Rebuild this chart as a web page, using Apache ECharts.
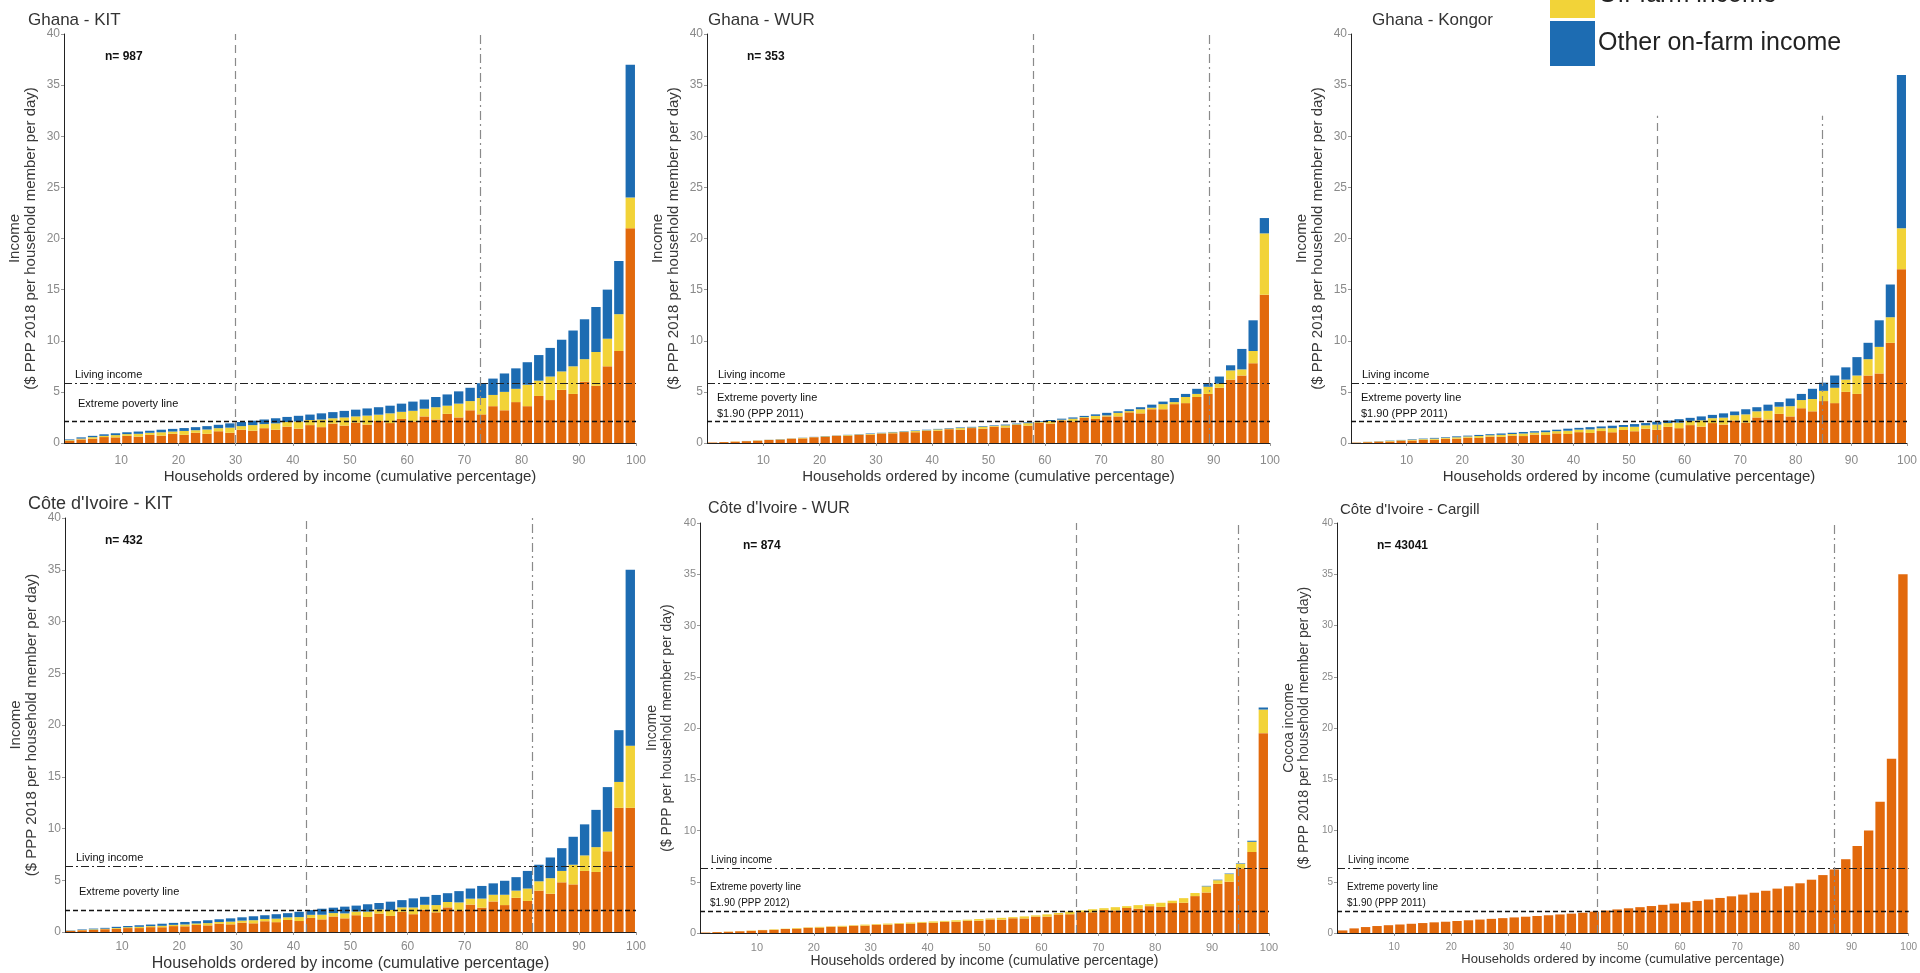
<!DOCTYPE html>
<html>
<head>
<meta charset="utf-8">
<script src="https://cdn.jsdelivr.net/npm/echarts@6/dist/echarts.min.js"></script>
<style>
html,body{margin:0;padding:0;background:#fff;}
#chart{width:1920px;height:973px;}
</style>
</head>
<body>
<div id="chart"></div>
<script>
// ---------- DATA ----------
// household position (cumulative percentage, centre of each 2% group)
const pct = [1,3,5,7,9,11,13,15,17,19,21,23,25,27,29,31,33,35,37,39,41,43,45,47,49,51,53,55,57,59,61,63,65,67,69,71,73,75,77,79,81,83,85,87,89,91,93,95,97,99];

const seriesNames = ['Cocoa income', 'Off-farm income', 'Other on-farm income'];

// Ghana - KIT
const ghKitCocoa  = [0.22,0.35,0.42,0.58,0.55,0.7,0.62,0.8,0.72,0.9,0.8,1.0,0.9,1.15,1.0,1.3,1.2,1.45,1.3,1.6,1.4,1.75,1.55,1.9,1.7,2.0,1.8,2.15,1.95,2.35,2.1,2.6,2.3,2.85,2.5,3.2,2.8,3.6,3.2,4.0,3.6,4.6,4.2,5.2,4.8,6.0,5.6,7.5,9.0,21];
const ghKitOther  = [0.06,0.08,0.15,0.12,0.22,0.17,0.28,0.2,0.33,0.22,0.38,0.25,0.42,0.3,0.5,0.35,0.55,0.4,0.62,0.45,0.7,0.5,0.75,0.52,0.8,0.6,0.88,0.62,0.95,0.7,1.05,0.75,1.2,0.8,1.35,0.9,1.6,1.1,1.8,1.3,2.1,1.5,2.3,1.8,2.7,2.2,3.3,2.7,3.6,3];
const ghKitOnfarm = [0.07,0.12,0.13,0.15,0.18,0.18,0.22,0.2,0.25,0.26,0.28,0.3,0.33,0.33,0.42,0.4,0.43,0.45,0.5,0.5,0.56,0.53,0.6,0.6,0.64,0.66,0.7,0.73,0.75,0.8,0.9,0.9,1.0,1.1,1.2,1.3,1.45,1.6,1.8,2.0,2.2,2.5,2.8,3.1,3.5,3.9,4.4,4.8,5.2,13];

// Ghana - WUR
const ghWurCocoa  = [0.045,0.09,0.13,0.18,0.22,0.3,0.33,0.42,0.45,0.56,0.6,0.7,0.7,0.8,0.82,0.92,0.95,1.07,1.05,1.2,1.2,1.35,1.3,1.46,1.4,1.6,1.52,1.76,1.7,1.98,1.9,2.2,2.1,2.45,2.35,2.6,2.6,3.0,2.9,3.3,3.3,3.8,3.9,4.5,4.8,5.4,6.2,6.6,7.8,14.5];
const ghWurOther  = [0.005,0.01,0.02,0.01,0.03,0.01,0.03,0.02,0.05,0.02,0.05,0.02,0.07,0.03,0.06,0.04,0.09,0.04,0.12,0.05,0.13,0.05,0.16,0.06,0.19,0.06,0.2,0.07,0.24,0.08,0.25,0.08,0.28,0.08,0.3,0.1,0.35,0.12,0.4,0.15,0.5,0.2,0.6,0.3,0.7,0.4,0.9,0.6,1.2,6.0];
const ghWurOnfarm = [0,0,0,0.01,0.01,0.01,0.02,0.01,0.02,0.02,0.03,0.02,0.03,0.03,0.05,0.04,0.04,0.04,0.05,0.05,0.05,0.05,0.06,0.06,0.06,0.06,0.08,0.07,0.08,0.08,0.1,0.1,0.12,0.12,0.15,0.25,0.15,0.18,0.2,0.3,0.25,0.4,0.3,0.5,0.35,0.7,0.5,2.0,3.0,1.5];

// Ghana - Kongor
const ghKonCocoa  = [0.035,0.08,0.13,0.15,0.22,0.24,0.31,0.32,0.42,0.42,0.52,0.5,0.62,0.6,0.72,0.68,0.82,0.78,0.94,0.88,1.06,0.98,1.17,1.05,1.27,1.15,1.4,1.3,1.58,1.45,1.75,1.6,1.95,1.8,2.2,2.0,2.5,2.3,2.85,2.6,3.4,3.1,4.1,3.9,5.0,4.8,6.6,6.8,9.8,17];
const ghKonOther  = [0.01,0.03,0.03,0.06,0.05,0.08,0.07,0.11,0.09,0.14,0.12,0.18,0.14,0.2,0.16,0.25,0.2,0.28,0.22,0.32,0.25,0.35,0.27,0.4,0.3,0.44,0.33,0.5,0.37,0.55,0.42,0.62,0.48,0.68,0.52,0.8,0.6,0.85,0.7,1.0,0.8,1.2,1.0,1.5,1.2,1.8,1.6,2.6,2.5,4];
const ghKonOnfarm = [0.005,0.01,0.02,0.03,0.03,0.05,0.05,0.07,0.06,0.09,0.08,0.11,0.1,0.13,0.12,0.15,0.13,0.16,0.14,0.2,0.17,0.22,0.18,0.24,0.19,0.26,0.22,0.28,0.25,0.33,0.29,0.38,0.32,0.42,0.36,0.5,0.4,0.6,0.45,0.75,0.6,1.0,0.8,1.2,1.2,1.8,1.6,2.6,3.2,15];

// Côte d'Ivoire - KIT
const ciKitCocoa  = [0.1,0.17,0.2,0.27,0.3,0.38,0.38,0.47,0.46,0.57,0.55,0.68,0.64,0.8,0.74,0.9,0.84,1.04,0.95,1.16,1.06,1.36,1.22,1.5,1.32,1.62,1.45,1.78,1.55,1.95,1.72,2.15,1.9,2.38,2.08,2.65,2.35,2.95,2.6,3.3,3.0,4.0,3.7,4.8,4.6,5.9,5.8,7.8,12,12];
const ciKitOther  = [0.02,0.03,0.06,0.05,0.08,0.08,0.12,0.1,0.14,0.12,0.18,0.14,0.22,0.17,0.26,0.2,0.3,0.22,0.34,0.26,0.38,0.3,0.45,0.33,0.48,0.36,0.52,0.4,0.58,0.43,0.65,0.48,0.7,0.52,0.78,0.57,0.88,0.65,1.0,0.7,1.2,0.9,1.5,1.1,1.9,1.5,2.4,1.9,2.5,6];
const ciKitOnfarm = [0.03,0.05,0.07,0.08,0.12,0.12,0.15,0.15,0.2,0.19,0.24,0.23,0.28,0.26,0.32,0.32,0.38,0.36,0.43,0.4,0.51,0.46,0.58,0.52,0.65,0.57,0.71,0.62,0.8,0.7,0.88,0.77,0.98,0.85,1.09,0.98,1.22,1.1,1.35,1.3,1.7,1.6,2.0,2.2,2.7,3.0,3.6,4.3,5.0,17];

// Côte d'Ivoire - WUR
const ciWurCocoa  = [0.045,0.09,0.12,0.17,0.21,0.28,0.31,0.39,0.42,0.51,0.53,0.61,0.62,0.71,0.72,0.81,0.82,0.9,0.9,1.0,1.0,1.1,1.1,1.2,1.2,1.32,1.3,1.44,1.42,1.6,1.6,1.81,1.83,2.04,2.02,2.25,2.2,2.44,2.36,2.62,2.55,2.92,2.95,3.6,3.95,4.8,5.0,6.3,7.9,19.5];
const ciWurOther  = [0.005,0.01,0.02,0.01,0.03,0.02,0.05,0.03,0.06,0.04,0.07,0.04,0.08,0.05,0.1,0.06,0.1,0.07,0.12,0.08,0.13,0.08,0.14,0.1,0.16,0.1,0.18,0.11,0.2,0.12,0.22,0.14,0.25,0.16,0.3,0.17,0.32,0.18,0.36,0.2,0.4,0.23,0.45,0.3,0.6,0.35,0.75,0.45,1.0,2.3];
const ciWurOnfarm = [0,0,0,0,0,0,0,0,0,0,0,0,0,0,0,0,0,0,0,0,0,0,0,0,0,0,0,0,0,0,0,0,0,0,0,0,0,0,0,0,0,0,0,0,0.05,0.05,0.05,0.05,0.1,0.2];

// Côte d'Ivoire - Cargill (cocoa income only)
const ciCarCocoa  = [0.25,0.45,0.58,0.68,0.76,0.83,0.9,0.97,1.04,1.1,1.17,1.24,1.31,1.38,1.45,1.52,1.59,1.66,1.73,1.81,1.89,1.98,2.08,2.19,2.3,2.41,2.52,2.63,2.75,2.87,3.0,3.13,3.27,3.42,3.58,3.75,3.93,4.12,4.33,4.56,4.85,5.2,5.65,6.2,7.2,8.5,10.0,12.8,17.0,35];

// reference lines and annotations per panel
const panelTitles   = ['Ghana - KIT', 'Ghana - WUR', 'Ghana - Kongor', "Côte d'Ivoire - KIT", "Côte d'Ivoire - WUR", "Côte d'Ivoire - Cargill"];
const sampleLabels  = ['n= 987', 'n= 353', '', 'n= 432', 'n= 874', 'n= 43041'];
const livingIncome  = [5.87, 5.87, 5.87, 6.35, 6.3, 6.3];
const povertyLine   = [2.1, 2.1, 2.1, 2.1, 2.15, 2.15];
const povertyPct    = [29.9, 58, 55, 42.3, 66.2, 45.5];
const livingPct     = [72.8, 89.2, 84.7, 81.9, 94.6, 87];
const vLineTop      = [40, 40, 32, 40, 40, 40];
const povertyTexts  = ['Extreme poverty line', 'Extreme poverty line\n$1.90 (PPP 2011)', 'Extreme poverty line\n$1.90 (PPP 2011)', 'Extreme poverty line', 'Extreme poverty line\n$1.90 (PPP 2012)', 'Extreme poverty line\n$1.90 (PPP 2011)'];
const yTitles       = ['Income\n($ PPP 2018 per household member per day)', 'Income\n($ PPP 2018 per household member per day)', 'Income\n($ PPP 2018 per household member per day)', 'Income\n($ PPP 2018 per household member per day)', 'Income\n($ PPP per household member per day)', 'Cocoa income\n($ PPP 2018 per household member per day)'];
const xTitle        = 'Households ordered by income (cumulative percentage)';
const xTickValues   = [10,20,30,40,50,60,70,80,90,100];
const yTickValues   = [0,5,10,15,20,25,30,35,40];

const panelData = [
  [ghKitCocoa, ghKitOther, ghKitOnfarm],
  [ghWurCocoa, ghWurOther, ghWurOnfarm],
  [ghKonCocoa, ghKonOther, ghKonOnfarm],
  [ciKitCocoa, ciKitOther, ciKitOnfarm],
  [ciWurCocoa, ciWurOther, ciWurOnfarm],
  [ciCarCocoa]
];

// ---------- LAYOUT / STYLE ----------
const FONT = '"Liberation Sans", Arial, sans-serif';
const colors = ['#E2690C', '#F2D338', '#1D6CB2'];
const layout = [
  {left: 64,   right: 636,  top: 34,  bottom: 443, titleX: 23,   titleY: 7,   titleSize: 17, nX: 100,  nY: 46,  tick: 12, axisName: 15, xName: 15, lab: 11, xGap: 26, tickMargin: 12},
  {left: 707,  right: 1270, top: 34,  bottom: 443, titleX: 703,  titleY: 7,   titleSize: 17, nX: 742,  nY: 46,  tick: 12, axisName: 15, xName: 15, lab: 11, xGap: 26, tickMargin: 12},
  {left: 1351, right: 1914, top: 34,  bottom: 443, titleX: 1367, titleY: 7,   titleSize: 17, nX: 1390, nY: 46,  tick: 12, axisName: 15, xName: 15, lab: 11, xGap: 26, tickMargin: 12},
  {left: 65,   right: 636,  top: 518, bottom: 932, titleX: 23,   titleY: 490, titleSize: 18, nX: 100,  nY: 530, tick: 12, axisName: 15, xName: 16, lab: 11, xGap: 24, tickMargin: 9},
  {left: 700,  right: 1269, top: 523, bottom: 933, titleX: 703,  titleY: 496, titleSize: 16, nX: 738,  nY: 535, tick: 11, axisName: 14, xName: 14, lab: 10, xGap: 17, tickMargin: 9},
  {left: 1337, right: 1914, top: 523, bottom: 933, titleX: 1335, titleY: 497, titleSize: 15, nX: 1372, nY: 535, tick: 10, axisName: 14, xName: 13, lab: 10, xGap: 18, tickMargin: 9}
];

const grids = [], xAxes = [], yAxes = [], series = [], titles = [];

layout.forEach((L, p) => {
  grids.push({left: L.left, top: L.top, width: L.right - L.left, height: L.bottom - L.top});
  // hidden category axis carrying the bars (one category per 2% group)
  xAxes.push({
    type: 'category', gridIndex: p, data: pct, boundaryGap: true, position: 'bottom', show: false
  });
  // visible value axis (0-100 %) carrying ticks, labels, title and vertical lines
  xAxes.push({
    type: 'value', gridIndex: p, min: 0, max: 100, interval: 10, position: 'bottom',
    axisLine: {show: true, onZero: false, lineStyle: {color: '#222', width: 1}},
    axisTick: {show: true, length: 3, lineStyle: {color: '#999'}, customValues: xTickValues},
    axisLabel: {color: '#8a8a8a', fontSize: L.tick, fontFamily: FONT, margin: L.tickMargin, customValues: xTickValues},
    splitLine: {show: false},
    name: xTitle, nameLocation: 'middle', nameGap: L.xGap,
    nameTextStyle: {fontSize: L.xName, color: '#333', fontFamily: FONT}
  });
  yAxes.push({
    type: 'value', gridIndex: p, min: 0, max: 40, interval: 5,
    axisLine: {show: true, lineStyle: {color: '#222', width: 1}},
    axisTick: {show: true, length: 3, lineStyle: {color: '#999'}},
    axisLabel: {color: '#8a8a8a', fontSize: L.tick, fontFamily: FONT, margin: 4, customValues: yTickValues},
    splitLine: {show: false},
    name: yTitles[p], nameLocation: 'middle', nameGap: 25, nameRotate: 90,
    nameTextStyle: {fontSize: L.axisName, color: '#3a3a3a', fontFamily: FONT, lineHeight: L.axisName + 1, align: 'center'}
  });
  titles.push({text: panelTitles[p], left: L.titleX, top: L.titleY,
    textStyle: {fontSize: L.titleSize, fontWeight: 'normal', color: '#333', fontFamily: FONT}});
  if (sampleLabels[p]) {
    titles.push({text: sampleLabels[p], left: L.nX, top: L.nY,
      textStyle: {fontSize: 12, fontWeight: 'bold', color: '#111', fontFamily: FONT}});
  }

  panelData[p].forEach((arr, k) => {
    series.push({
      name: seriesNames[k], type: 'bar', xAxisIndex: 2 * p, yAxisIndex: p,
      stack: 'panel' + p, barWidth: '82%',
      itemStyle: {color: colors[k]},
      data: arr,
      emphasis: {disabled: true}
    });
  });

  // reference lines on the percentage axis
  const single = povertyTexts[p].indexOf('\n') < 0;
  series.push({
    name: 'ref' + p, type: 'line', xAxisIndex: 2 * p + 1, yAxisIndex: p, z: 5,
    data: [[0, 0]], symbol: 'none', lineStyle: {opacity: 0}, silent: true,
    markLine: {
      silent: true, symbol: 'none', animation: false,
      data: [
        {yAxis: livingIncome[p], lineStyle: {color: '#222', type: [8, 3, 2, 3], width: 1},
         label: {show: true, formatter: 'Living income', position: 'insideStartTop', distance: 1,
                 padding: [0, 0, 0, 10], lineHeight: 14, color: '#111', fontSize: L.lab, fontFamily: FONT}},
        {yAxis: povertyLine[p], lineStyle: {color: '#111', type: [5, 3], width: 1.3},
         label: {show: true, formatter: povertyTexts[p], position: 'insideStartTop', distance: single ? 10 : 0,
                 padding: [0, 0, 0, single ? 4 : 10], lineHeight: 16, color: '#111', fontSize: L.lab, fontFamily: FONT}},
        [{coord: [povertyPct[p], 0], lineStyle: {color: '#8a8a8a', type: [8, 5], width: 1.2}, label: {show: false}},
         {coord: [povertyPct[p], vLineTop[p]]}],
        [{coord: [livingPct[p], 0], lineStyle: {color: '#8a8a8a', type: [9, 4, 2, 4], width: 1.2}, label: {show: false}},
         {coord: [livingPct[p], vLineTop[p]]}]
      ]
    }
  });
});

const chart = echarts.init(document.getElementById('chart'), null, {renderer: 'canvas'});
chart.setOption({
  animation: false,
  backgroundColor: '#fff',
  title: titles,
  legend: {
    data: seriesNames, orient: 'vertical', left: 1545, top: -80,
    itemWidth: 45, itemHeight: 45, itemGap: 3, icon: 'rect',
    textStyle: {fontSize: 25, color: '#222', fontFamily: FONT, padding: [0, 0, 0, -2]},
    selectedMode: false
  },
  grid: grids, xAxis: xAxes, yAxis: yAxes, series: series
});
</script>
</body>
</html>
